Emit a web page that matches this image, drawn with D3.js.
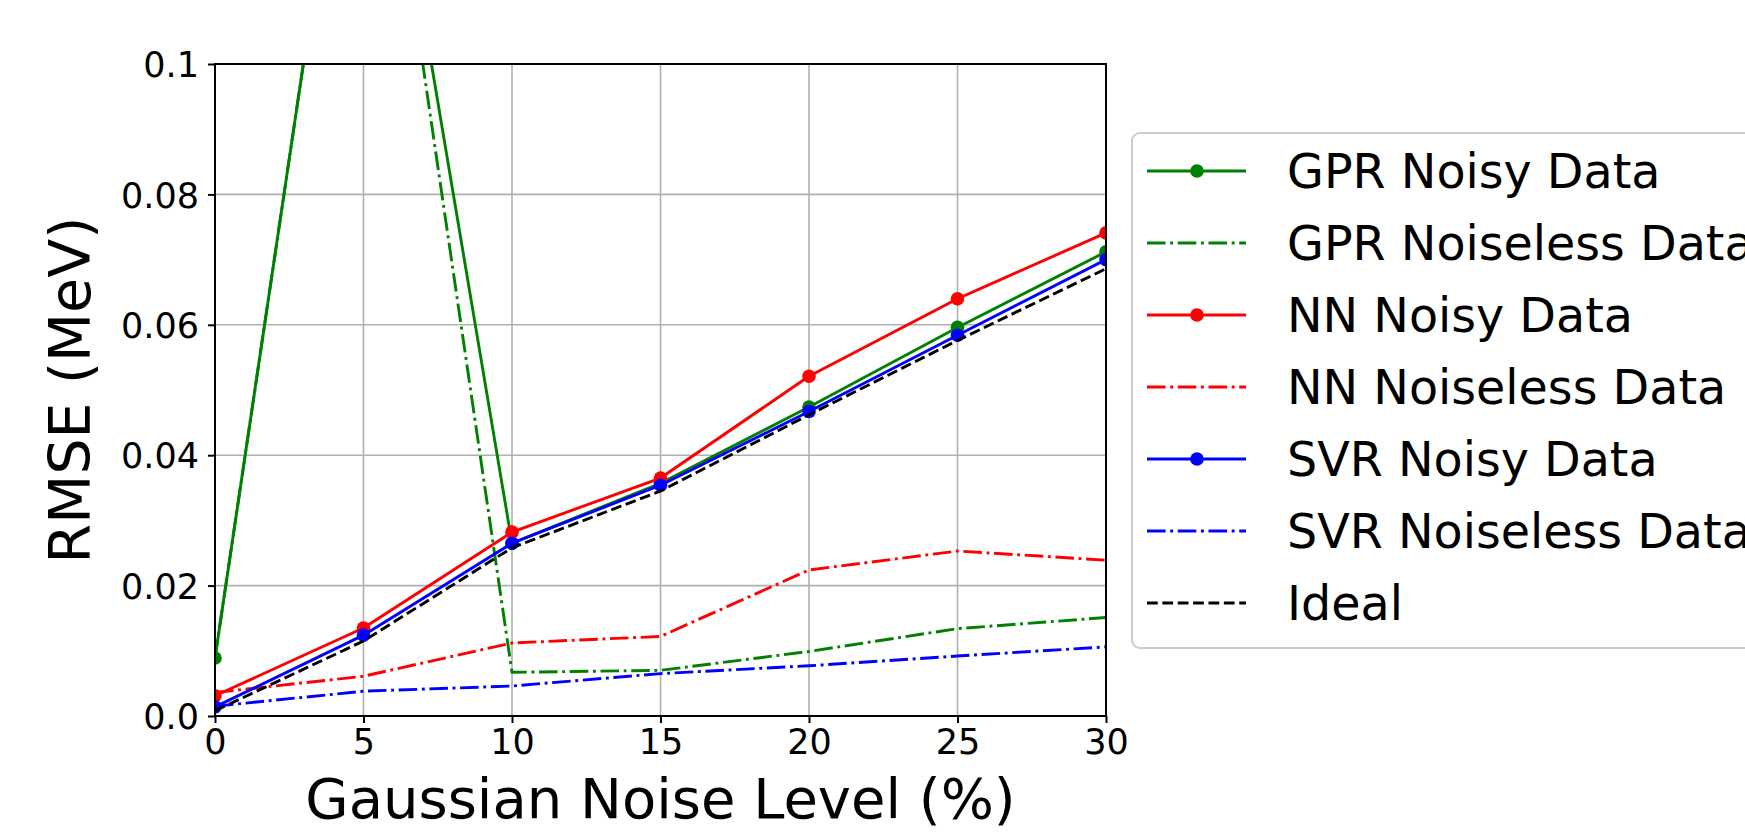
<!DOCTYPE html>
<html>
<head>
<meta charset="utf-8">
<script src="https://cdn.jsdelivr.net/npm/d3@7/dist/d3.min.js"></script>
<style>
  html, body { margin: 0; padding: 0; background: #fff; }
  svg { display: block; font-family: "DejaVu Sans", sans-serif; }
</style>
</head>
<body>
<svg id="chart" width="1745" height="832"></svg>
<script>
// ---- data ----
const noiseLevels = [0, 5, 10, 15, 20, 25, 30];
const gprNoisy     = [0.0089, 0.162, 0.0265, 0.0357, 0.0474, 0.0596, 0.0712];
const gprNoiseless = [0.0089, 0.162, 0.0067, 0.0070, 0.0099, 0.0134, 0.0151];
const nnNoisy      = [0.0031, 0.0135, 0.0282, 0.0365, 0.0521, 0.0640, 0.0741];
const nnNoiseless  = [0.0036, 0.0061, 0.0112, 0.0122, 0.0224, 0.0253, 0.0239];
const svrNoisy     = [0.0014, 0.0124, 0.0265, 0.0354, 0.0467, 0.0584, 0.0700];
const svrNoiseless = [0.0015, 0.0038, 0.0046, 0.0065, 0.0077, 0.0092, 0.0106];
const ideal        = [0.0008, 0.0115, 0.0258, 0.0345, 0.0462, 0.0576, 0.0686];
const seriesNames = ["GPR Noisy Data", "GPR Noiseless Data", "NN Noisy Data", "NN Noiseless Data",
                     "SVR Noisy Data", "SVR Noiseless Data", "Ideal"];
const xTicks = [0, 5, 10, 15, 20, 25, 30];
const yTicks = [0, 0.02, 0.04, 0.06, 0.08, 0.1];
const yTickLabels = ["0.0", "0.02", "0.04", "0.06", "0.08", "0.1"];
const xLabel = "Gaussian Noise Level (%)";
const yLabel = "RMSE (MeV)";

// ---- styles ----
const LW = 2.9;
const DASHDOT = [6.4, 1.6, 1, 1.6].map(d => d * LW).join(",");
const DASHED = [3.7, 1.6].map(d => d * LW).join(",");
const series = [
  { name: seriesNames[0], values: gprNoisy,     color: "#008000", dash: null,    marker: true },
  { name: seriesNames[1], values: gprNoiseless, color: "#008000", dash: DASHDOT, marker: false },
  { name: seriesNames[2], values: nnNoisy,      color: "#ff0000", dash: null,    marker: true },
  { name: seriesNames[3], values: nnNoiseless,  color: "#ff0000", dash: DASHDOT, marker: false },
  { name: seriesNames[4], values: svrNoisy,     color: "#0000ff", dash: null,    marker: true },
  { name: seriesNames[5], values: svrNoiseless, color: "#0000ff", dash: DASHDOT, marker: false },
  { name: seriesNames[6], values: ideal,        color: "#000000", dash: DASHED,  marker: false }
];

const L = 215, R = 1106, T = 64, B = 716;
const svg = d3.select("#chart");
const x = d3.scaleLinear().domain([0, 30]).range([L, R]);
const y = d3.scaleLinear().domain([0, 0.1]).range([B, T]);

svg.append("defs").append("clipPath").attr("id", "plotclip")
  .append("rect").attr("x", L).attr("y", T).attr("width", R - L).attr("height", B - T);

// grid
const grid = svg.append("g");
grid.selectAll("line.gx").data(xTicks).join("line")
  .attr("x1", d => x(d)).attr("x2", d => x(d)).attr("y1", T).attr("y2", B)
  .attr("stroke", "#b0b0b0").attr("stroke-width", 1.6);
grid.selectAll("line.gy").data(yTicks).join("line")
  .attr("y1", d => y(d)).attr("y2", d => y(d)).attr("x1", L).attr("x2", R)
  .attr("stroke", "#b0b0b0").attr("stroke-width", 1.6);

// lines
const plot = svg.append("g").attr("clip-path", "url(#plotclip)");
const lineGen = d3.line().x((d, i) => x(noiseLevels[i])).y(d => y(d));
series.forEach(s => {
  plot.append("path").datum(s.values)
    .attr("d", lineGen)
    .attr("fill", "none")
    .attr("stroke", s.color)
    .attr("stroke-width", LW)
    .attr("stroke-dasharray", s.dash)
    .attr("stroke-linejoin", "round");
  if (s.marker) {
    plot.append("g").selectAll("circle").data(s.values).join("circle")
      .attr("cx", (d, i) => x(noiseLevels[i])).attr("cy", d => y(d))
      .attr("r", 6.8).attr("fill", s.color);
  }
});

// axes
const xAxis = d3.axisBottom(x).tickValues(xTicks).tickFormat(d3.format("d")).tickSize(7).tickPadding(6);
const yAxis = d3.axisLeft(y).tickValues(yTicks).tickFormat((d, i) => yTickLabels[i]).tickSize(7).tickPadding(9);
const gx = svg.append("g").attr("transform", `translate(0,${B})`).call(xAxis);
const gy = svg.append("g").attr("transform", `translate(${L},0)`).call(yAxis);
[gx, gy].forEach(g => {
  g.select(".domain").remove();
  g.selectAll(".tick line").attr("stroke", "#000").attr("stroke-width", 2);
  g.selectAll(".tick text").attr("font-size", 35).attr("fill", "#000")
    .attr("font-family", "DejaVu Sans");
});
gy.selectAll(".tick text").attr("dy", "0.36em");

// spines
svg.append("rect").attr("x", L).attr("y", T).attr("width", R - L).attr("height", B - T)
  .attr("fill", "none").attr("stroke", "#000").attr("stroke-width", 2);

// axis labels
svg.append("text").attr("x", (L + R) / 2).attr("y", 818)
  .attr("text-anchor", "middle").attr("font-size", 56).text(xLabel);
svg.append("text").attr("transform", `translate(90,${(T + B) / 2}) rotate(-90)`)
  .attr("text-anchor", "middle").attr("font-size", 57).text(yLabel);

// legend
const leg = svg.append("g");
leg.append("rect").attr("x", 1132).attr("y", 133).attr("width", 700).attr("height", 515)
  .attr("rx", 8).attr("ry", 8)
  .attr("fill", "#fff").attr("fill-opacity", 0.8)
  .attr("stroke", "#cccccc").attr("stroke-width", 2);
const rowY = d3.scaleLinear().domain([0, 6]).range([171, 603]);
series.forEach((s, i) => {
  const yy = rowY(i);
  leg.append("line").attr("x1", 1147).attr("x2", 1246).attr("y1", yy).attr("y2", yy)
    .attr("stroke", s.color).attr("stroke-width", LW).attr("stroke-dasharray", s.dash);
  if (s.marker) {
    leg.append("circle").attr("cx", 1197).attr("cy", yy).attr("r", 6.8).attr("fill", s.color);
  }
  leg.append("text").attr("x", 1287).attr("y", yy + 17).attr("font-size", 47.6)
    .attr("fill", "#000").text(s.name);
});
</script>
</body>
</html>
